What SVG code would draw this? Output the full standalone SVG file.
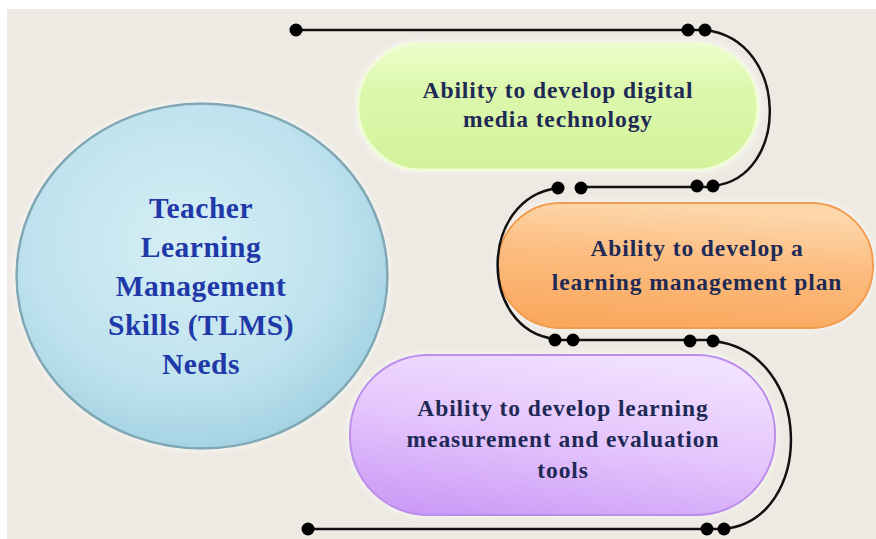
<svg xmlns="http://www.w3.org/2000/svg" width="876" height="539" viewBox="0 0 876 539">
<style>
.bg{fill:#EEEAE3}
.line{fill:none;stroke:#111;stroke-width:2.5}
.dot{fill:#000}
.t{font-family:"Liberation Serif","Times New Roman",serif;font-weight:bold;text-anchor:middle}
.ct{font-size:29.5px;fill:#2038A8;letter-spacing:0.5px}
.pt{font-size:23.5px;fill:#1E2A55;letter-spacing:0.9px}
</style>
<defs>
<radialGradient id="gCircle" cx="0.45" cy="0.4" r="0.6">
<stop offset="0" stop-color="#D6EEF5"/>
<stop offset="0.7" stop-color="#BEE2EE"/>
<stop offset="1" stop-color="#A6D3E3"/>
</radialGradient>
<linearGradient id="gGreen" x1="0" y1="0" x2="0" y2="1">
<stop offset="0" stop-color="#ECFDCD"/>
<stop offset="0.35" stop-color="#DDF8AD"/>
<stop offset="1" stop-color="#D3F29B"/>
</linearGradient>
<linearGradient id="gOrange" x1="0.3" y1="0" x2="0.1" y2="1">
<stop offset="0" stop-color="#FDD6AA"/>
<stop offset="0.4" stop-color="#FCBD80"/>
<stop offset="1" stop-color="#F9A65A"/>
</linearGradient>
<linearGradient id="gPurple" x1="0.6" y1="0" x2="0.2" y2="1">
<stop offset="0" stop-color="#F1E0FF"/>
<stop offset="0.5" stop-color="#E4C4FC"/>
<stop offset="1" stop-color="#CC9AF6"/>
</linearGradient>
<filter id="glow" x="-10%" y="-20%" width="120%" height="140%">
<feGaussianBlur stdDeviation="3" in="SourceAlpha" result="b"/>
<feFlood flood-color="#FFFFFF" flood-opacity="0.8"/>
<feComposite operator="in" in2="b" result="w"/>
<feMerge><feMergeNode in="w"/><feMergeNode in="SourceGraphic"/></feMerge>
</filter>
</defs>
<rect x="0" y="0" width="876" height="539" fill="#FFFFFF"/>
<rect class="bg" x="7" y="9" width="869" height="530"/>

<g id="node-center">
<ellipse cx="202" cy="276" rx="185.5" ry="172.5" fill="url(#gCircle)" stroke="#7FA7B4" stroke-width="2.5" filter="url(#glow)"/>
<text class="t ct" x="201" y="218">Teacher</text>
<text class="t ct" x="201" y="257">Learning</text>
<text class="t ct" x="201" y="296">Management</text>
<text class="t ct" x="201" y="335">Skills (TLMS)</text>
<text class="t ct" x="201" y="374">Needs</text>
</g>

<g id="node-digital">
<rect x="358" y="43" width="400" height="127" rx="63" ry="63" fill="url(#gGreen)" stroke="#F0FCD6" stroke-width="3" filter="url(#glow)"/>
<text class="t pt" x="558" y="98">Ability to develop digital</text>
<text class="t pt" x="558" y="127">media technology</text>
</g>

<g id="node-plan">
<rect x="498" y="203" width="375" height="125" rx="62" ry="62" fill="url(#gOrange)" stroke="#F29C4C" stroke-width="2" filter="url(#glow)"/>
<text class="t pt" x="697" y="256">Ability to develop a</text>
<text class="t pt" x="697" y="290">learning management plan</text>
</g>

<g id="node-eval">
<rect x="350" y="355" width="425" height="160" rx="78" ry="78" fill="url(#gPurple)" stroke="#BA8EEA" stroke-width="2" filter="url(#glow)"/>
<text class="t pt" x="563" y="416">Ability to develop learning</text>
<text class="t pt" x="563" y="447">measurement and evaluation</text>
<text class="t pt" x="563" y="478">tools</text>
</g>

<g id="connectors">
<path class="line" d="M296,30 H705"/>
<path class="line" d="M705,30 C790,40 790,178 713,186"/>
<path class="line" d="M581,187 H713"/>
<path class="line" d="M558,188 C478,198 478,330 555,339"/>
<path class="line" d="M555,340 H713"/>
<path class="line" d="M713,341 C815,352 815,520 724,529"/>
<path class="line" d="M308,529 H724"/>
<circle class="dot" cx="296" cy="30" r="6.5"/>
<circle class="dot" cx="688" cy="30" r="6.5"/>
<circle class="dot" cx="705" cy="30" r="6.5"/>
<circle class="dot" cx="697" cy="186" r="6.5"/>
<circle class="dot" cx="713" cy="186" r="6.5"/>
<circle class="dot" cx="558" cy="188" r="6.5"/>
<circle class="dot" cx="581" cy="188" r="6.5"/>
<circle class="dot" cx="555" cy="340" r="6.5"/>
<circle class="dot" cx="573" cy="340" r="6.5"/>
<circle class="dot" cx="690" cy="341" r="6.5"/>
<circle class="dot" cx="713" cy="341" r="6.5"/>
<circle class="dot" cx="308" cy="529" r="6.5"/>
<circle class="dot" cx="707" cy="529" r="6.5"/>
<circle class="dot" cx="724" cy="529" r="6.5"/>
</g>
</svg>
